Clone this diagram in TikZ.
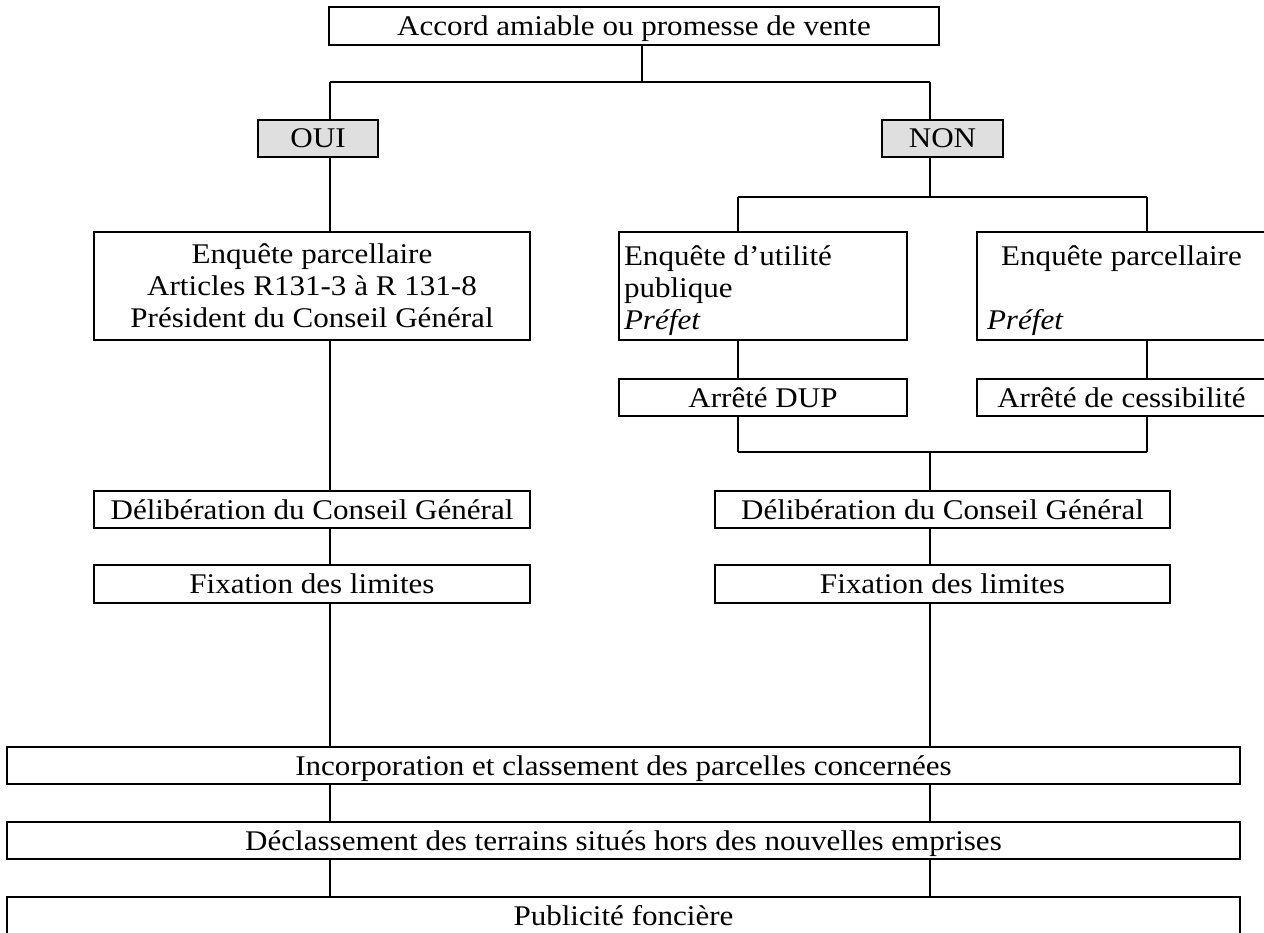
\documentclass[tikz,border=0pt]{standalone}
\usepackage{fontspec}
\setmainfont{Liberation Serif}[FakeStretch=1.09]
\newcommand\boxfont{\fontsize{28.5}{32}\selectfont}
\begin{document}
\begin{tikzpicture}[x=1pt,y=-1pt,
  every path/.style={line width=2pt},
  frame/.style={draw, line width=2pt, inner sep=0pt, font=\boxfont},
  box/.style={frame, align=center, text height=19pt, text depth=0pt},
  answer/.style={box, fill=gray!25},
  txtline/.style={font=\boxfont, inner sep=0pt, anchor=base},
  txtleft/.style={txtline, anchor=base west}]
\useasboundingbox (0,0) rectangle (1264,933);

% question
\node[box, minimum width=610pt, minimum height=38pt] (top) at (634,26) {Accord amiable ou promesse de vente};

% answers
\node[answer, minimum width=120pt, minimum height=37pt] (oui) at (318,138.5) {OUI};
\node[answer, minimum width=121pt, minimum height=37pt] (non) at (942.5,138.5) {NON};

% OUI branch
\node[frame, minimum width=436pt, minimum height=108pt] (enqL) at (312,286) {};
\node[txtline] (enqL1) at (312,264) {Enquête parcellaire};
\node[txtline] (enqL2) at (312,296) {Articles R131-3 à R 131-8};
\node[txtline] (enqL3) at (312,328) {Président du Conseil Général};
\node[box, minimum width=436pt, minimum height=37pt] (delL) at (312,509.5) {Délibération du Conseil Général};
\node[box, minimum width=436pt, minimum height=38pt] (fixL) at (312,584) {Fixation des limites};

% NON branch
\node[frame, minimum width=288pt, minimum height=108pt] (eup) at (763,286) {};
\node[txtleft] (eup1) at (623,266) {Enquête d’utilité};
\node[txtleft] (eup2) at (623,298) {publique};
\node[txtleft] (eup3) at (623,330) {\textit{Préfet}};
\node[frame, minimum width=289pt, minimum height=108pt] (enqR) at (1121.5,286) {};
\node[txtline] (enqR1) at (1121.5,266) {Enquête parcellaire};
\node[txtleft] (enqR3) at (986,330) {\textit{Préfet}};
\node[box, minimum width=288pt, minimum height=37pt] (dup) at (763,397.5) {Arrêté DUP};
\node[box, minimum width=289pt, minimum height=37pt] (cess) at (1121.5,397.5) {Arrêté de cessibilité};
\node[box, minimum width=455pt, minimum height=37pt] (delR) at (942.5,509.5) {Délibération du Conseil Général};
\node[box, minimum width=455pt, minimum height=38pt] (fixR) at (942.5,584) {Fixation des limites};

% common steps
\node[box, minimum width=1233pt, minimum height=37pt] (inc) at (623.5,765.5) {Incorporation et classement des parcelles concernées};
\node[box, minimum width=1233pt, minimum height=37pt] (decl) at (623.5,840.5) {Déclassement des terrains situés hors des nouvelles emprises};
\node[box, minimum width=1233pt, minimum height=37pt] (pub) at (623.5,915.5) {Publicité foncière};

% junction points
\coordinate (tj) at (642,82);
\coordinate (jL) at (330,82);
\coordinate (jR) at (930,82);
\coordinate (sL) at (738,197);
\coordinate (sR) at (1147,197);
\coordinate (mL) at (738,452);
\coordinate (mR) at (1147,452);

% connectors
\draw (top.south -| tj) -- (tj);
\draw (jL) -- (jR);
\draw (jL) -- (jL |- oui.north);
\draw (jR) -- (jR |- non.north);
\draw (jL |- oui.south) -- (jL |- enqL.north);
\draw (jR |- non.south) -- (jR |- sL);
\draw (sL) -- (sR);
\draw (sL) -- (sL |- eup.north);
\draw (sR) -- (sR |- enqR.north);
\draw (sL |- eup.south) -- (sL |- dup.north);
\draw (sR |- enqR.south) -- (sR |- cess.north);
\draw (sL |- dup.south) -- (mL);
\draw (sR |- cess.south) -- (mR);
\draw (mL) -- (mR);
\draw (jR |- mL) -- (jR |- delR.north);
\draw (jL |- enqL.south) -- (jL |- delL.north);
\draw (jL |- delL.south) -- (jL |- fixL.north);
\draw (jR |- delR.south) -- (jR |- fixR.north);
\draw (jL |- fixL.south) -- (jL |- inc.north);
\draw (jR |- fixR.south) -- (jR |- inc.north);
\draw (jL |- inc.south) -- (jL |- decl.north);
\draw (jR |- inc.south) -- (jR |- decl.north);
\draw (jL |- decl.south) -- (jL |- pub.north);
\draw (jR |- decl.south) -- (jR |- pub.north);
\end{tikzpicture}
\end{document}
